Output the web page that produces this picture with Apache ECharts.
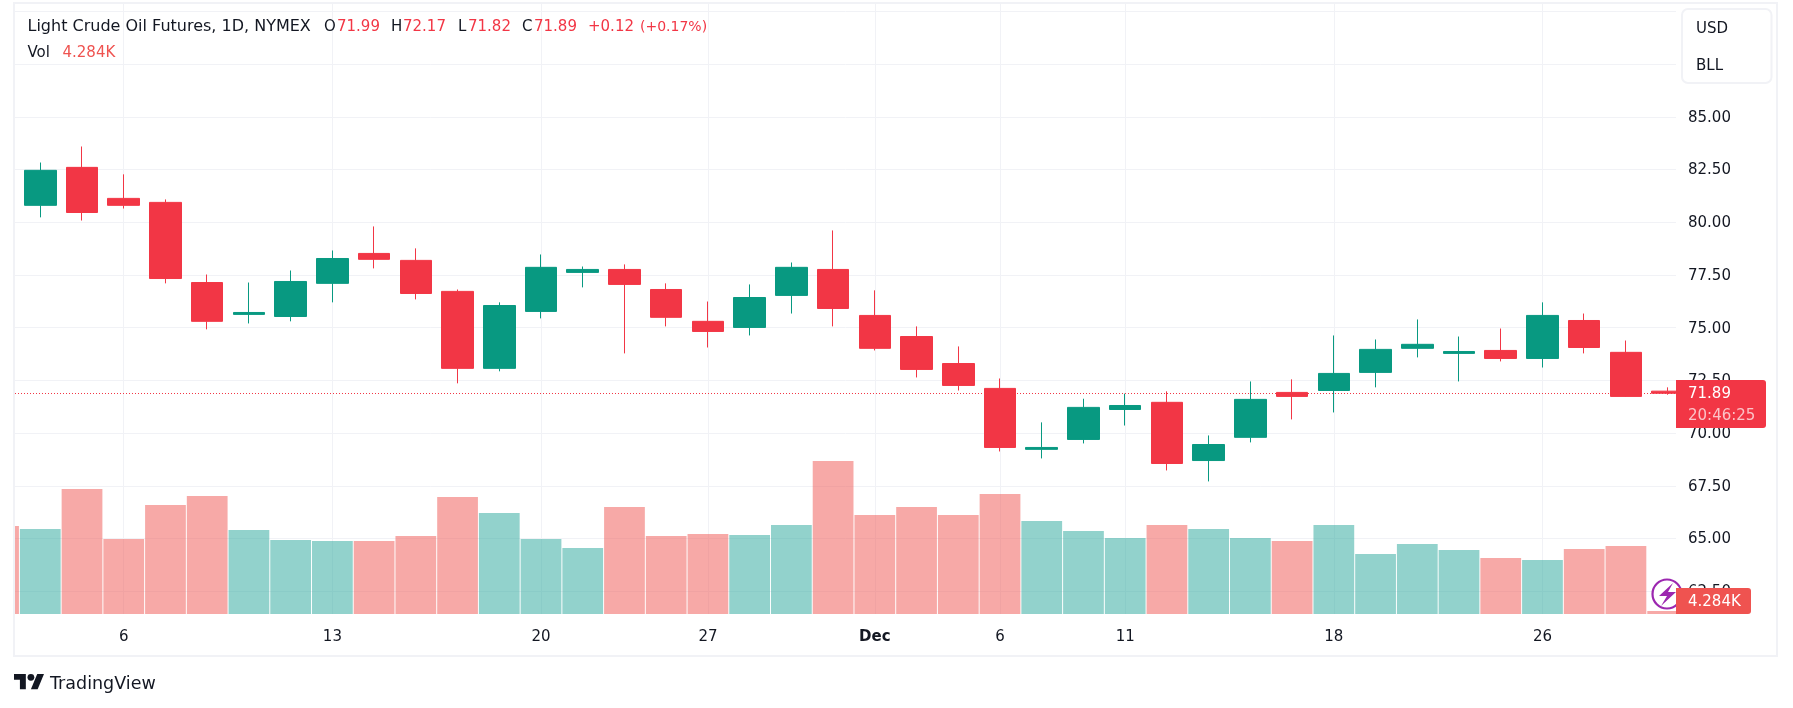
<!DOCTYPE html>
<html><head><meta charset="utf-8">
<style>html,body{margin:0;padding:0;background:#fff}#c{width:1793px;height:708px}</style>
<script src="https://cdn.jsdelivr.net/npm/echarts@6/dist/echarts.min.js"></script>
</head><body><div id="c"></div>
<script>
const FONT = 'DejaVu Sans';
// candle 1..40
const opens  = [80.80,82.60,81.13,80.94,77.14,75.63,75.53,77.10,78.52,78.19,76.72,73.07,75.77,77.62,77.76,76.81,75.30,75.01,76.53,77.76,75.58,74.58,73.30,72.12,69.23,69.70,71.12,71.46,68.70,69.80,71.93,72.02,72.88,74.02,73.78,73.92,73.54,75.34,73.83,71.99];
const closes = [82.46,80.46,80.80,77.33,75.30,75.72,77.19,78.28,78.24,76.62,73.07,76.05,77.86,77.76,77.05,75.49,74.82,76.43,77.86,75.91,74.02,73.02,72.26,69.32,69.32,71.22,71.31,68.56,69.46,71.60,71.74,72.83,73.97,74.21,73.87,73.54,75.58,74.06,71.74,71.89];
const lows   = [80.23,80.08,80.65,77.10,74.92,75.20,75.30,76.20,77.81,76.34,72.36,72.93,75.44,76.91,73.78,75.06,74.06,74.63,75.67,75.06,73.92,72.64,72.02,69.13,68.80,69.51,70.36,68.23,67.71,69.56,70.65,70.98,72.17,73.59,72.45,73.40,73.11,73.78,71.72,71.82];
const highs  = [82.83,83.59,82.27,81.08,77.52,77.14,77.71,78.66,79.80,78.76,76.81,76.20,78.47,77.90,78.00,77.10,76.24,77.05,78.09,79.61,76.77,75.06,74.11,72.59,70.51,71.63,71.87,71.98,69.89,72.45,72.55,74.63,74.44,75.39,74.58,74.96,76.20,75.67,74.39,72.17];
// volume 0..40, in thousands (bar 0 is cut by the left edge of the plot)
const volumes = [125.7,121.4,178.5,107.1,155.7,168.5,120.0,105.7,104.2,104.2,111.4,167.1,144.2,107.1,94.2,152.8,111.4,114.2,112.8,127.1,218.5,141.4,152.8,141.4,171.4,132.8,118.5,108.5,127.1,121.4,108.5,104.2,127.1,85.7,100.0,91.4,80.0,77.1,92.8,97.1,4.284];
const volumeUp = [0,1,0,0,0,0,1,1,1,0,0,0,1,1,1,0,0,0,1,1,0,0,0,0,0,1,1,1,0,1,1,0,1,1,1,1,0,1,0,0,0];
const tickIndex = [3,8,13,17,21,24,27,32,37];
const tickLabels = ['6','13','20','27','Dec','6','11','18','26'];
const priceLabels = [62.5,65,67.5,70,72.5,75,77.5,80,82.5,85];
const lastPrice = 71.89;

const GREEN='#089981', RED='#F23645', GRID='#f1f2f6', TEXT='#131722';
const xMin=0.394, xMax=40.2;
const candleData = opens.map((o,i)=>[i+1,o,closes[i],lows[i],highs[i]]);
const volumeData = volumes.map((v,i)=>({value:[i,v],itemStyle:{color:volumeUp[i]?'rgba(38,166,154,0.5)':'rgba(239,83,80,0.5)'}}));

const T=(x,y,text,fill,opt={})=>({type:'text',x,y,z:opt.z||50,style:Object.assign({text,fill,font:`${opt.w||400} ${opt.s||15}px "${FONT}"`,textVerticalAlign:'middle',textAlign:'left'},opt.style||{})});
const logoPt=(x,y)=>[14+0.845*x,668+0.845*y];

const chart=echarts.init(document.getElementById('c'),null,{renderer:'canvas',width:1793,height:708});
chart.setOption({
  animation:false,backgroundColor:'#fff',
  textStyle:{fontFamily:FONT},
  grid:[
    {left:15,right:117,top:11.3,bottom:116.7,containLabel:false},
    {left:15,right:117,top:4,bottom:94,containLabel:false}
  ],
  xAxis:[
    {type:'value',gridIndex:0,min:xMin,max:xMax,show:false},
    {type:'value',gridIndex:1,min:xMin,max:xMax,
      axisLine:{show:false},
      axisTick:{show:false,customValues:tickIndex},
      splitLine:{show:true,lineStyle:{color:GRID,width:1}},
      axisLabel:{customValues:tickIndex,margin:16,fontSize:15,color:TEXT,fontFamily:FONT,hideOverlap:false,
        formatter:v=>{const s=tickLabels[tickIndex.indexOf(v)];return s==='Dec'?'{b|Dec}':s;},
        rich:{b:{fontWeight:700,fontSize:15,color:TEXT,fontFamily:FONT}}}}
  ],
  yAxis:[
    {type:'value',gridIndex:0,position:'right',min:62.5,max:90,interval:2.5,
      axisLine:{show:false},axisTick:{show:false},
      splitLine:{show:true,lineStyle:{color:GRID,width:1}},
      axisLabel:{customValues:priceLabels,margin:12,fontSize:15,color:TEXT,fontFamily:FONT,
        formatter:v=>'{p|'+v.toFixed(2)+'}',
        rich:{p:{fontSize:15,color:TEXT,fontFamily:FONT,padding:[2,0,0,0]}},
        showMinLabel:true,showMaxLabel:true}},
    {type:'value',gridIndex:1,min:0,max:871,show:false,splitLine:{show:false}}
  ],
  series:[
    {type:'bar',xAxisIndex:1,yAxisIndex:1,data:volumeData,barWidth:40.75,z:2,clip:true,silent:true},
    {type:'candlestick',xAxisIndex:0,yAxisIndex:0,data:candleData,barWidth:32,z:3,clip:true,silent:true,
      itemStyle:{color:GREEN,color0:RED,borderColor:GREEN,borderColor0:RED,borderWidth:1},
      markLine:{silent:true,symbol:'none',animation:false,label:{show:false},
        lineStyle:{color:RED,width:1,type:[1,2]},data:[{yAxis:lastPrice}]}}
  ],
  graphic:{elements:[
    {type:'rect',z:39,shape:{x:0,y:0,width:14,height:708},style:{fill:'#fff'}},
    {type:'rect',z:40,shape:{x:14,y:3,width:1763,height:653},style:{fill:'none',stroke:GRID,lineWidth:2}},
    // unit box
    {type:'rect',z:45,shape:{x:1682,y:9,width:89.5,height:74,r:6},style:{fill:'#fff',stroke:GRID,lineWidth:2}},
    T(1696,29,'USD',TEXT),T(1696,66,'BLL',TEXT),
    // legend
    T(27.5,27,'Light Crude Oil Futures, 1D, NYMEX',TEXT,{s:16}),
    T(324,27,'O',TEXT),T(337,27,'71.99',RED),
    T(391,27,'H',TEXT),T(403,27,'72.17',RED),
    T(458,27,'L',TEXT),T(468,27,'71.82',RED),
    T(522,27,'C',TEXT),T(534,27,'71.89',RED),
    T(588,27,'+0.12',RED),T(640,27,'(+0.17%)',RED,{s:14}),
    T(27.5,53,'Vol',TEXT),T(62.5,53,'4.284K','#EF5350'),
    // lightning badge
    {type:'circle',z:41,shape:{cx:1667,cy:594,r:14.5},style:{fill:'#fff',stroke:'#9C27B0',lineWidth:2.2}},
    {type:'polygon',z:42,shape:{points:[[1673,583],[1659,596],[1667,596],[1661,606],[1676,592],[1668,592]]},style:{fill:'#9C27B0'}},
    // price tags
    {type:'rect',z:46,shape:{x:1676,y:380,width:90,height:48,r:[0,3,3,0]},style:{fill:RED}},
    T(1688,394,'71.89','#fff',{z:47,w:500}),T(1688,416,'20:46:25','rgba(255,255,255,0.7)',{z:47}),
    {type:'rect',z:46,shape:{x:1676,y:588,width:75,height:26,r:[0,3,3,0]},style:{fill:'#EF5350'}},
    T(1688,602,'4.284K','#fff',{z:47}),
    // footer brand
    {type:'polygon',z:50,shape:{points:[[14,25],[7,25],[7,14],[0,14],[0,7],[14,7]].map(p=>logoPt(p[0],p[1]))},style:{fill:TEXT}},
    {type:'polygon',z:50,shape:{points:[[28,25],[20,25],[27.5,7],[35.5,7]].map(p=>logoPt(p[0],p[1]))},style:{fill:TEXT}},
    {type:'circle',z:50,shape:{cx:logoPt(20,11)[0],cy:logoPt(20,11)[1],r:3.4},style:{fill:TEXT}},
    T(50,684,'TradingView',TEXT,{s:17.5,w:500})
  ]}
});
</script></body></html>
